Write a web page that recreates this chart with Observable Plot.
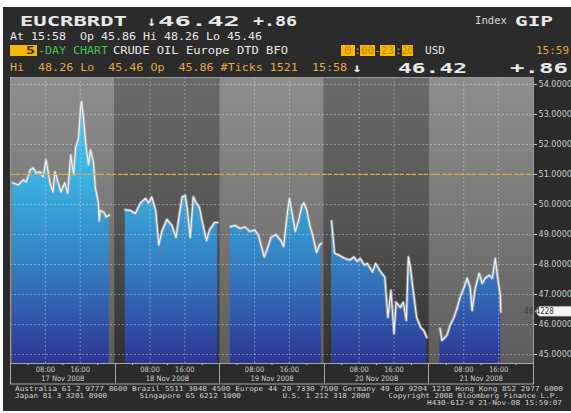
<!DOCTYPE html>
<html><head><meta charset="utf-8">
<script src="https://cdn.jsdelivr.net/npm/d3@7"></script>
<script src="https://cdn.jsdelivr.net/npm/@observablehq/plot@0.6"></script>
<style>
html,body{margin:0;padding:0;background:#fff;}
#root{position:relative;width:571px;height:413px;overflow:hidden;}
#bg{position:absolute;left:3px;top:7px;right:0;bottom:2px;background:#2b2b2b;}
.t{position:absolute;white-space:pre;transform-origin:0 50%;font-family:"DejaVu Sans Mono",monospace;}
.box{position:absolute;background:#f5b70a;}
#chart{position:absolute;left:0;top:76px;}
</style></head><body><div id="root"><div id="bg"></div><div id="chart"></div></div>
<script>
// ---- data ----
const dayLabels = ["17 Nov 2008", "18 Nov 2008", "19 Nov 2008", "20 Nov 2008", "21 Nov 2008"];
const timeTickLabels = ["08:00", "16:00"];
const yTicks = [45, 46, 47, 48, 49, 50, 51, 52, 53, 54];
const refLevel = 51;
const lastPrice = 46.4228;

const hours17 = [0.45,1.81,2.94,3.62,4.53,5.21,5.89,6.79,7.47,8.15,9.06,9.74,10.19,11.09,11.55,12.45,13.13,13.81,14.49,14.94,15.62,16.08,16.3,16.75,17.21,17.89,18.34,19.02,19.47,20.15,20.35,20.6,21.51,21.96,22.64];
const price17 = [50.72,50.65,50.82,50.75,51.15,51.22,51.05,51.09,50.92,51.49,50.72,50.42,51.09,50.65,50.42,50.72,50.38,51.65,50.99,51.89,52.22,53.23,53.43,52.89,52.09,51.32,51.82,51.42,50.55,50.08,49.45,49.8,49.72,49.58,49.65];

const hours18 = [2.33,3.5,4.66,5.83,6.99,7.69,8.39,9.32,10.02,10.72,11.88,13.05,13.98,14.68,15.38,16.08,16.54,17.24,17.94,18.64,19.34,20.04,20.97,21.67,22.83,23.53];
const price18 = [49.82,49.8,49.7,50.05,50.2,50.05,50.25,49.8,48.65,49.1,49.5,49.3,48.9,49.6,50.25,50.3,49.9,48.9,50.25,50.05,49.9,49.4,48.8,49.15,49.4,49.4];

const hours19 = [2.44,3.56,4.67,5.78,6.89,8.0,8.89,9.56,10.22,11.11,11.78,12.89,14.0,14.67,15.56,16.0,16.67,17.33,18.0,18.89,19.33,20.0,20.67,21.33,22.22,22.89,23.33];
const price19 = [49.26,49.3,49.2,49.25,49.1,49.15,48.98,48.6,48.25,48.6,48.9,49.0,48.8,48.6,49.75,50.2,49.65,49.1,49.4,49.97,50.05,49.8,49.3,48.98,48.4,48.65,48.7];

const hours20 = [1.65,2.35,3.53,4.71,5.88,6.82,7.53,8.24,9.18,9.88,11.06,11.76,12.94,13.88,14.59,15.29,16.0,16.47,17.41,18.12,18.82,19.29,19.76,20.47,21.18,22.12,22.82,23.53];
const price20 = [49.45,48.38,48.3,48.2,48.15,48.25,48.1,48.2,47.98,48.03,47.75,48.03,47.75,47.58,46.24,47.14,45.7,46.74,46.57,46.74,46.14,48.25,47.9,47.04,46.24,45.9,45.8,45.57];

const hours21 = [2.54,3.0,4.15,4.85,5.77,6.46,7.15,8.08,8.77,9.46,9.92,10.62,11.54,12.23,12.92,13.85,14.54,15.23,15.69,16.38,16.5];
const price21 = [45.87,45.47,45.64,45.97,46.24,46.54,46.9,47.24,47.54,47.24,46.47,47.2,47.7,47.37,47.54,47.64,47.54,48.2,47.64,46.97,46.42];

const series = [[hours17, price17], [hours18, price18], [hours19, price19], [hours20, price20], [hours21, price21]];

// ---- derived tables ----
const data = series.flatMap(([hs, vs], d) => hs.map((h, i) => ({day: d, t: d * 24 + h, v: vs[i]})));
const panels = dayLabels.map((label, d) => ({d, label, x1: d * 24, x2: d * 24 + 24}));
const gridHours = panels.flatMap(p => [p.x1 + 8, p.x1 + 16]);
const minorHours = panels.flatMap(p => [p.x1 + 4, p.x1 + 12, p.x1 + 20]);
const dayMid = panels.map(p => p.x1 + 12);

const YMIN = 44.70, YMAX = 54.23;
const NS = "http://www.w3.org/2000/svg";
function el(tag, attrs) { const e = document.createElementNS(NS, tag); for (const k in attrs) e.setAttribute(k, attrs[k]); return e; }

function defsMark(index, scales, values, dims) {
  const defs = el("defs", {});
  const top = dims.marginTop, bot = dims.height - dims.marginBottom;
  const mk = (id, stops) => {
    const g = el("linearGradient", {id, gradientUnits: "userSpaceOnUse", x1: 0, x2: 0, y1: top, y2: bot});
    for (const [o, c] of stops) g.appendChild(el("stop", {offset: o, "stop-color": c}));
    defs.appendChild(g);
  };
  mk("gLight", [[0, "#8e8e8e"], [0.5, "#787878"], [1, "#5c5c5c"]]);
  mk("gDark", [[0, "#6a6a6a"], [0.5, "#555555"], [1, "#2f2f2f"]]);
  mk("gArea", [[0, "#4ad2f6"], [0.35, "#3bb2e2"], [0.62, "#3486c4"], [0.85, "#3055aa"], [1, "#2d3592"]]);
  return defs;
}

function axisBox(index, scales, values, dims) {
  const g = el("g", {fill: "none", stroke: "#a8a8a8", "stroke-width": 1});
  const x0 = dims.marginLeft, x1 = dims.width - dims.marginRight;
  const y0 = dims.height - dims.marginBottom, y1 = dims.height - 2.5;
  g.appendChild(el("rect", {x: x0 + 0.5, y: y0 + 0.5, width: x1 - x0, height: y1 - y0}));
  for (const p of panels) if (p.d > 0) {
    const x = Math.round(scales.x(p.x1)) + 0.5;
    g.appendChild(el("line", {x1: x, x2: x, y1: y0, y2: y1}));
  }
  return g;
}

function priceTag(index, scales, values, dims) {
  const g = el("g", {});
  const y = scales.y(lastPrice);
  const x0 = dims.width - dims.marginRight + 2;
  g.appendChild(el("path", {d: `M${x0},${y} L${x0 + 4},${y - 5} H${dims.width + 4} V${y + 5} H${x0 + 4} Z`, fill: "#f4f4f4", stroke: "#888", "stroke-width": 0.6}));
  const t = el("text", {x: x0 + 4, y: y, "font-size": 8, fill: "#3a3a3a", "dominant-baseline": "central"});
  t.textContent = d3.format(".4f")(lastPrice);
  g.appendChild(t);
  return g;
}

const chart = Plot.plot({
  width: 571, height: 310,
  marginLeft: 10, marginRight: 38, marginTop: 1, marginBottom: 23,
  x: {domain: [0, 120], label: null},
  y: {domain: [YMIN, YMAX], label: null},
  style: {background: "transparent", color: "#cccccc", fontFamily: "'DejaVu Sans Condensed','DejaVu Sans',sans-serif", overflow: "visible"},
  marks: [
    defsMark,
    Plot.rect(panels.filter(p => p.d % 2 === 0), {x1: "x1", x2: "x2", y1: YMIN, y2: YMAX, fill: "url(#gLight)"}),
    Plot.rect(panels.filter(p => p.d % 2 === 1), {x1: "x1", x2: "x2", y1: YMIN, y2: YMAX, fill: "url(#gDark)"}),
    Plot.areaY(data, {x: "t", y1: YMIN, y2: "v", z: "day", fill: "url(#gArea)"}),
    Plot.ruleY(yTicks, {stroke: "#d8d8d8", strokeOpacity: 0.45, strokeDasharray: "2,2"}),
    Plot.ruleX(gridHours, {stroke: "#d8d8d8", strokeOpacity: 0.45, strokeDasharray: "2,2"}),
    Plot.line(data, {x: "t", y: "v", z: "day", stroke: "#b8b8b8", strokeWidth: 3, strokeOpacity: 0.65}),
    Plot.line(data, {x: "t", y: "v", z: "day", stroke: "#f4f4f4", strokeWidth: 1.1}),
    Plot.ruleY([refLevel], {stroke: "#e8a33a", strokeWidth: 1.3, strokeDasharray: "4,2"}),
    Plot.frame({stroke: "#9a9a9a"}),
    Plot.axisY({anchor: "right", ticks: yTicks, tickFormat: d3.format(".4f"), tickSize: 3, tickPadding: 2, fontSize: 9}),
    Plot.axisX({ticks: gridHours, tickFormat: h => timeTickLabels[Math.round((h % 24) / 8) - 1], tickSize: 0, tickPadding: 3, fontSize: 7.5}),
    Plot.axisX({ticks: minorHours, tickFormat: () => "", tickSize: 2}),
    Plot.axisX({ticks: dayMid, tickFormat: h => dayLabels[Math.floor(h / 24)], tickSize: 0, tickPadding: 12, fontSize: 7.5}),
    axisBox,
    priceTag
  ]
});
document.getElementById("chart").appendChild(chart);

// ---- header & footer text ----
const root = document.getElementById("root");
const WHITE = "#e8e8e8", ORANGE = "#e9a63c", GREEN = "#45c24e", YEL = "#f5b70a";
function txt(text, x, cy, size, color, bold, w) {
  const s = document.createElement("span");
  s.className = "t";
  s.textContent = text;
  s.style.left = x + "px";
  s.style.top = (cy - size / 2) + "px";
  s.style.fontSize = size + "px";
  s.style.lineHeight = size + "px";
  s.style.color = color;
  if (bold) s.style.fontWeight = "bold";
  root.appendChild(s);
  if (w) { const m = s.getBoundingClientRect().width; if (m > 0) s.style.transform = `scaleX(${w / m})`; }
  return s;
}
function box(x1, x2, y1, y2) {
  const b = document.createElement("div");
  b.className = "box";
  b.style.left = x1 + "px"; b.style.width = (x2 - x1) + "px";
  b.style.top = y1 + "px"; b.style.height = (y2 - y1) + "px";
  root.appendChild(b);
}
// row 1
txt("EUCRBRDT", 20, 21, 14, WHITE, true, 107);
txt("↓", 147, 21, 14, WHITE, true, 9);
txt("46.42", 158, 21, 14, WHITE, true, 82);
txt("+.86", 253, 21, 14, WHITE, true, 44);
txt("Index", 475, 20.5, 11, "#d8d8d8", false, 32);
txt("GIP", 515, 20.5, 14, WHITE, true, 38);
// row 2
txt("At 15:58  Op 45.86 Hi 48.26 Lo 45.46", 10, 36, 11, WHITE, false, 252);
// row 3
box(10, 37, 45, 56);
txt("5", 26, 50.5, 11, "#3a2800", true, 9);
txt("-DAY CHART", 38, 50.5, 11, GREEN, false, 70);
txt("CRUDE OIL Europe DTD BFO", 113, 50.5, 11, WHITE, false, 175);
box(341, 355, 45, 56); txt("0", 344, 50.5, 11, "#c88a00", false, 8);
txt(":", 355, 50.5, 11, YEL, false, 5);
box(360, 375, 45, 56); txt("00", 361, 50.5, 11, "#c88a00", false, 13);
txt("-", 375, 50.5, 11, YEL, false, 5);
box(380, 395, 45, 56); txt("23", 381, 50.5, 11, "#c88a00", false, 13);
txt(":", 396, 50.5, 11, YEL, false, 5);
box(402, 413, 45, 56); txt("20", 402, 50.5, 11, "#c88a00", false, 11);
txt("USD", 425, 50.5, 11, WHITE, false, 20);
txt("15:59", 536, 50.5, 11, ORANGE, false, 33);
// row 4
txt("Hi  48.26 Lo  45.46 Op  45.86 #Ticks 1521  15:58", 10, 67.5, 11, ORANGE, false, 337);
txt("↓", 352, 67.5, 12, WHITE, true, 10);
txt("46.42", 398, 67.5, 14, WHITE, true, 69);
txt("+.86", 510, 67.5, 14, WHITE, true, 58);
// footer
const FOOT = "#cfcfcf";
txt("Australia 61 2 9777 8600 Brazil 5511 3048 4500 Europe 44 20 7330 7500 Germany 49 69 9204 1210 Hong Kong 852 2977 6000", 15, 389, 6.8, FOOT, false, 548);
txt("Japan 81 3 3201 8900".padEnd(27) + "Singapore 65 6212 1000".padEnd(31) + "U.S. 1 212 318 2000".padEnd(23) + "Copyright 2008 Bloomberg Finance L.P.", 15, 396.3, 6.8, FOOT, false, 544);
txt("H430-612-0 21-Nov-08 15:59:07", 427, 403.6, 6.8, FOOT, false, 135);
</script></body></html>
